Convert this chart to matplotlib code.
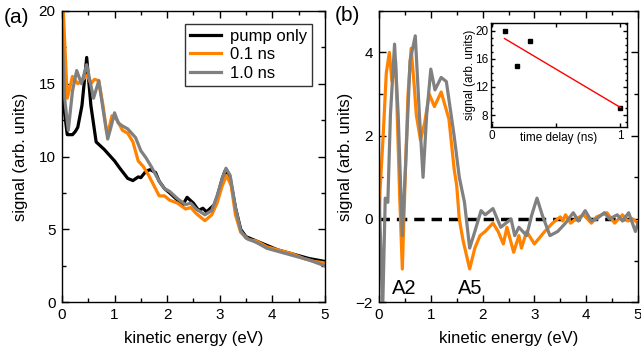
import numpy as np
import matplotlib
matplotlib.use("Agg")
import matplotlib.pyplot as plt
from matplotlib.ticker import MultipleLocator

plt.rcParams['font.family'] = ['Liberation Sans', 'DejaVu Sans']

ORANGE = '#ff8200'
GRAY = '#808080'

# ---- panel (a) data ----
a_pump_x = [0.0, 0.05, 0.1, 0.2, 0.25, 0.3, 0.38, 0.47, 0.55, 0.65, 0.8, 0.85, 1.0, 1.1, 1.25, 1.35,
            1.45, 1.5, 1.6, 1.68, 1.78, 1.85, 1.95, 2.05, 2.2, 2.3, 2.38, 2.5, 2.6, 2.68, 2.75, 2.9,
            2.95, 3.05, 3.1, 3.2, 3.3, 3.4, 3.5, 3.7, 3.9, 4.1, 4.4, 4.7, 5.0]
a_pump_y = [19.0, 13.0, 11.5, 11.5, 11.7, 12.0, 13.5, 16.8, 13.5, 11.0, 10.5, 10.3, 9.7, 9.2, 8.5, 8.35,
            8.6, 8.55, 9.0, 9.1, 8.9, 8.3, 7.8, 7.5, 7.0, 6.7, 7.2, 6.8, 6.3, 6.45, 6.2, 6.7,
            7.2, 8.5, 9.0, 8.5, 6.5, 5.0, 4.5, 4.2, 3.9, 3.6, 3.3, 3.0, 2.8]

a_01_x = [0.0, 0.05, 0.1, 0.2, 0.3, 0.38, 0.48, 0.55, 0.62, 0.7, 0.78, 0.85, 0.9, 0.95, 1.05, 1.15,
          1.25, 1.35, 1.45, 1.55, 1.65, 1.75, 1.85, 1.95, 2.05, 2.2, 2.35, 2.45, 2.55, 2.65, 2.72,
          2.85, 2.95, 3.05, 3.13, 3.22, 3.3, 3.4, 3.55, 3.7, 3.9, 4.2, 4.4, 4.6, 4.8, 5.0]
a_01_y = [22.0, 18.0, 14.0, 15.5, 15.0, 15.2, 15.6, 15.0, 15.3, 15.2, 13.5, 11.7, 12.0, 12.8, 12.5, 11.8,
          11.6, 11.0, 9.7, 9.3, 8.7, 8.0, 7.3, 7.3, 7.0, 6.8, 6.4, 6.5, 6.1, 5.8, 5.6,
          6.0, 6.8, 8.0, 8.7, 8.0, 6.0, 4.8, 4.3, 4.2, 3.8, 3.5, 3.3, 3.0, 2.8, 2.7]

a_10_x = [0.0, 0.05, 0.12, 0.2, 0.28, 0.37, 0.47, 0.6, 0.7, 0.8, 0.87, 0.93, 1.0, 1.07, 1.15, 1.25,
          1.4, 1.5, 1.6, 1.7, 1.85, 1.95, 2.05, 2.2, 2.35, 2.45, 2.55, 2.72, 2.85, 2.95, 3.05,
          3.12, 3.2, 3.3, 3.4, 3.5, 3.7, 3.9, 4.2, 4.4, 4.7, 5.0]
a_10_y = [18.7, 14.0, 11.8, 14.5, 15.9, 15.0, 16.3, 14.0, 15.2, 12.8, 11.2, 12.0, 13.0, 12.3, 12.1, 11.9,
          11.3, 10.4, 9.9, 9.3, 8.3, 7.8, 7.6, 7.1, 6.7, 6.8, 6.4, 6.0, 6.3, 7.3, 8.5,
          9.2, 8.7, 6.5, 4.9, 4.4, 4.1, 3.7, 3.4, 3.2, 2.9, 2.5]

# ---- panel (b) data ----
b_01_x = [0.0, 0.02, 0.08, 0.14, 0.2, 0.25, 0.32, 0.4, 0.45, 0.5, 0.56, 0.62, 0.68, 0.72, 0.8, 0.88,
          0.97, 1.07, 1.2, 1.35, 1.45, 1.5, 1.55, 1.62, 1.75, 1.85, 1.95, 2.05, 2.2, 2.3, 2.4, 2.47,
          2.6, 2.7, 2.75, 2.85, 3.0, 3.2, 3.35, 3.5, 3.55, 3.6, 3.7, 3.8, 3.95, 4.1, 4.2, 4.4, 4.55,
          4.7, 4.8, 4.9, 5.0]
b_01_y = [-0.7, 0.7, 2.0, 3.5, 4.0, 3.3, 3.8, 0.5, -1.2, 0.8, 3.0, 4.1, 3.2, 2.5, 1.9, 2.3,
          3.0, 2.7, 3.05, 2.4, 1.2, 0.8, 0.0, -0.5, -1.2, -0.7, -0.4, -0.3, -0.1, -0.3, -0.6, -0.2,
          -0.8, -0.4, -0.7, -0.3, -0.6, -0.3, -0.1, 0.05, -0.05, 0.1, -0.1, 0.0, 0.1, -0.1, 0.05, 0.15, -0.1,
          0.1, -0.05, 0.0, -0.1]

b_10_x = [0.0, 0.03, 0.07, 0.12, 0.17, 0.22, 0.3, 0.37, 0.45, 0.52, 0.6, 0.7, 0.78, 0.85, 0.92, 1.0,
          1.08, 1.2, 1.3, 1.45, 1.55, 1.65, 1.75, 1.85, 1.97, 2.05, 2.2, 2.35, 2.55, 2.62, 2.7,
          2.85, 2.95, 3.05, 3.15, 3.3, 3.45, 3.6, 3.75, 3.85, 3.98, 4.1, 4.2, 4.35, 4.45, 4.6,
          4.7, 4.82, 4.95, 5.0]
b_10_y = [0.5, -0.5, -2.2, 0.5, 0.4, 2.5, 4.2, 2.5, -0.4, 1.5, 3.8, 4.4, 2.5, 1.0, 2.5, 3.6,
          3.1, 3.4, 3.3, 2.0, 1.0, 0.4, -0.7, -0.3, 0.2, 0.1, 0.25, -0.2, 0.0, -0.4, -0.2,
          -0.4, 0.1, 0.5, 0.1, -0.4, -0.3, -0.1, 0.15, -0.05, 0.2, -0.05, 0.0, 0.15, 0.0, 0.1,
          -0.05, 0.15, -0.3, -0.1]

# ---- inset data ----
inset_delay = [0.1, 0.2, 0.3, 1.0]
inset_signal = [20.0, 15.0, 18.5, 9.0]

fig = plt.figure(figsize=(6.41, 3.49), dpi=100)
ax1 = fig.add_axes([0.0967, 0.134, 0.410, 0.835])
ax2 = fig.add_axes([0.5913, 0.134, 0.404, 0.835])
axi = fig.add_axes([0.766, 0.636, 0.212, 0.298])

TFS = 11   # tick labels
LFS = 12   # axis labels

def style(ax, fs=TFS, pad=4.5):
    ax.tick_params(which='both', direction='in', top=True, right=True, labelsize=fs, width=1.0, pad=pad)
    ax.tick_params(which='major', length=5)
    ax.tick_params(which='minor', length=3)
    for s in ax.spines.values():
        s.set_linewidth(1.0)

lw = 2.3
ax1.plot(a_pump_x, a_pump_y, color='black', lw=lw, label='pump only')
ax1.plot(a_01_x, a_01_y, color=ORANGE, lw=lw, label='0.1 ns')
ax1.plot(a_10_x, a_10_y, color=GRAY, lw=lw, label='1.0 ns')
ax1.set_xlim(0, 5)
ax1.set_ylim(0, 20)
ax1.xaxis.set_major_locator(MultipleLocator(1))
ax1.xaxis.set_minor_locator(MultipleLocator(0.5))
ax1.yaxis.set_major_locator(MultipleLocator(5))
ax1.yaxis.set_minor_locator(MultipleLocator(2.5))
ax1.set_xlabel('kinetic energy (eV)', fontsize=LFS, labelpad=6)
ax1.set_ylabel('signal (arb. units)', fontsize=LFS)
ax1.yaxis.set_label_coords(-0.13, 0.5)
style(ax1)
leg = ax1.legend(loc='upper right', bbox_to_anchor=(0.95, 0.955), fontsize=LFS, frameon=True,
                 fancybox=False, edgecolor='black', handlelength=1.9, borderpad=0.3,
                 labelspacing=0.2, handletextpad=0.5, borderaxespad=0)
leg.get_frame().set_linewidth(1.0)
fig.text(0.006, 0.95, '(a)', fontsize=15, va='center', ha='left')

ax2.axhline(0, color='black', lw=2.5, ls=(0, (3, 2)))
ax2.plot(b_01_x, b_01_y, color=ORANGE, lw=lw)
ax2.plot(b_10_x, b_10_y, color=GRAY, lw=lw)
ax2.set_xlim(0, 5)
ax2.set_ylim(-2, 5)
ax2.xaxis.set_major_locator(MultipleLocator(1))
ax2.xaxis.set_minor_locator(MultipleLocator(0.5))
ax2.set_yticks([-2, 0, 2, 4])
ax2.yaxis.set_minor_locator(MultipleLocator(1))
ax2.set_xlabel('kinetic energy (eV)', fontsize=LFS, labelpad=6)
ax2.set_ylabel('signal (arb. units)', fontsize=LFS)
ax2.yaxis.set_label_coords(-0.10, 0.5)
style(ax2)
ax2.text(0.48, -1.8, 'A2', fontsize=14.5, ha='center', va='baseline')
ax2.text(1.76, -1.8, 'A5', fontsize=14.5, ha='center', va='baseline')
fig.text(0.522, 0.955, '(b)', fontsize=15, va='center', ha='left')

IFS = 8.5
axi.plot(inset_delay, inset_signal, 's', color='black', ms=2.6)
coef = np.polyfit(inset_delay, inset_signal, 1)
fx = np.array([min(inset_delay), max(inset_delay)])
axi.plot(fx, np.polyval(coef, fx), color='red', lw=1.0)
axi.set_xlim(-0.005, 1.05)
axi.set_ylim(6.3, 21.1)
axi.set_xticks([0, 0.5, 1])
axi.set_xticklabels(['0', '', '1'])
axi.set_yticks([8, 12, 16, 20])
axi.yaxis.set_minor_locator(MultipleLocator(1))
style(axi, fs=IFS, pad=2)
axi.tick_params(which='major', length=3)
axi.tick_params(which='minor', length=1.5)
axi.set_xlabel('time delay (ns)', fontsize=IFS)
axi.xaxis.set_label_coords(0.5, -0.045)
axi.set_ylabel('signal (arb. units)', fontsize=IFS)
axi.yaxis.set_label_coords(-0.11, 0.5)

fig.savefig('out.png', dpi=100)
